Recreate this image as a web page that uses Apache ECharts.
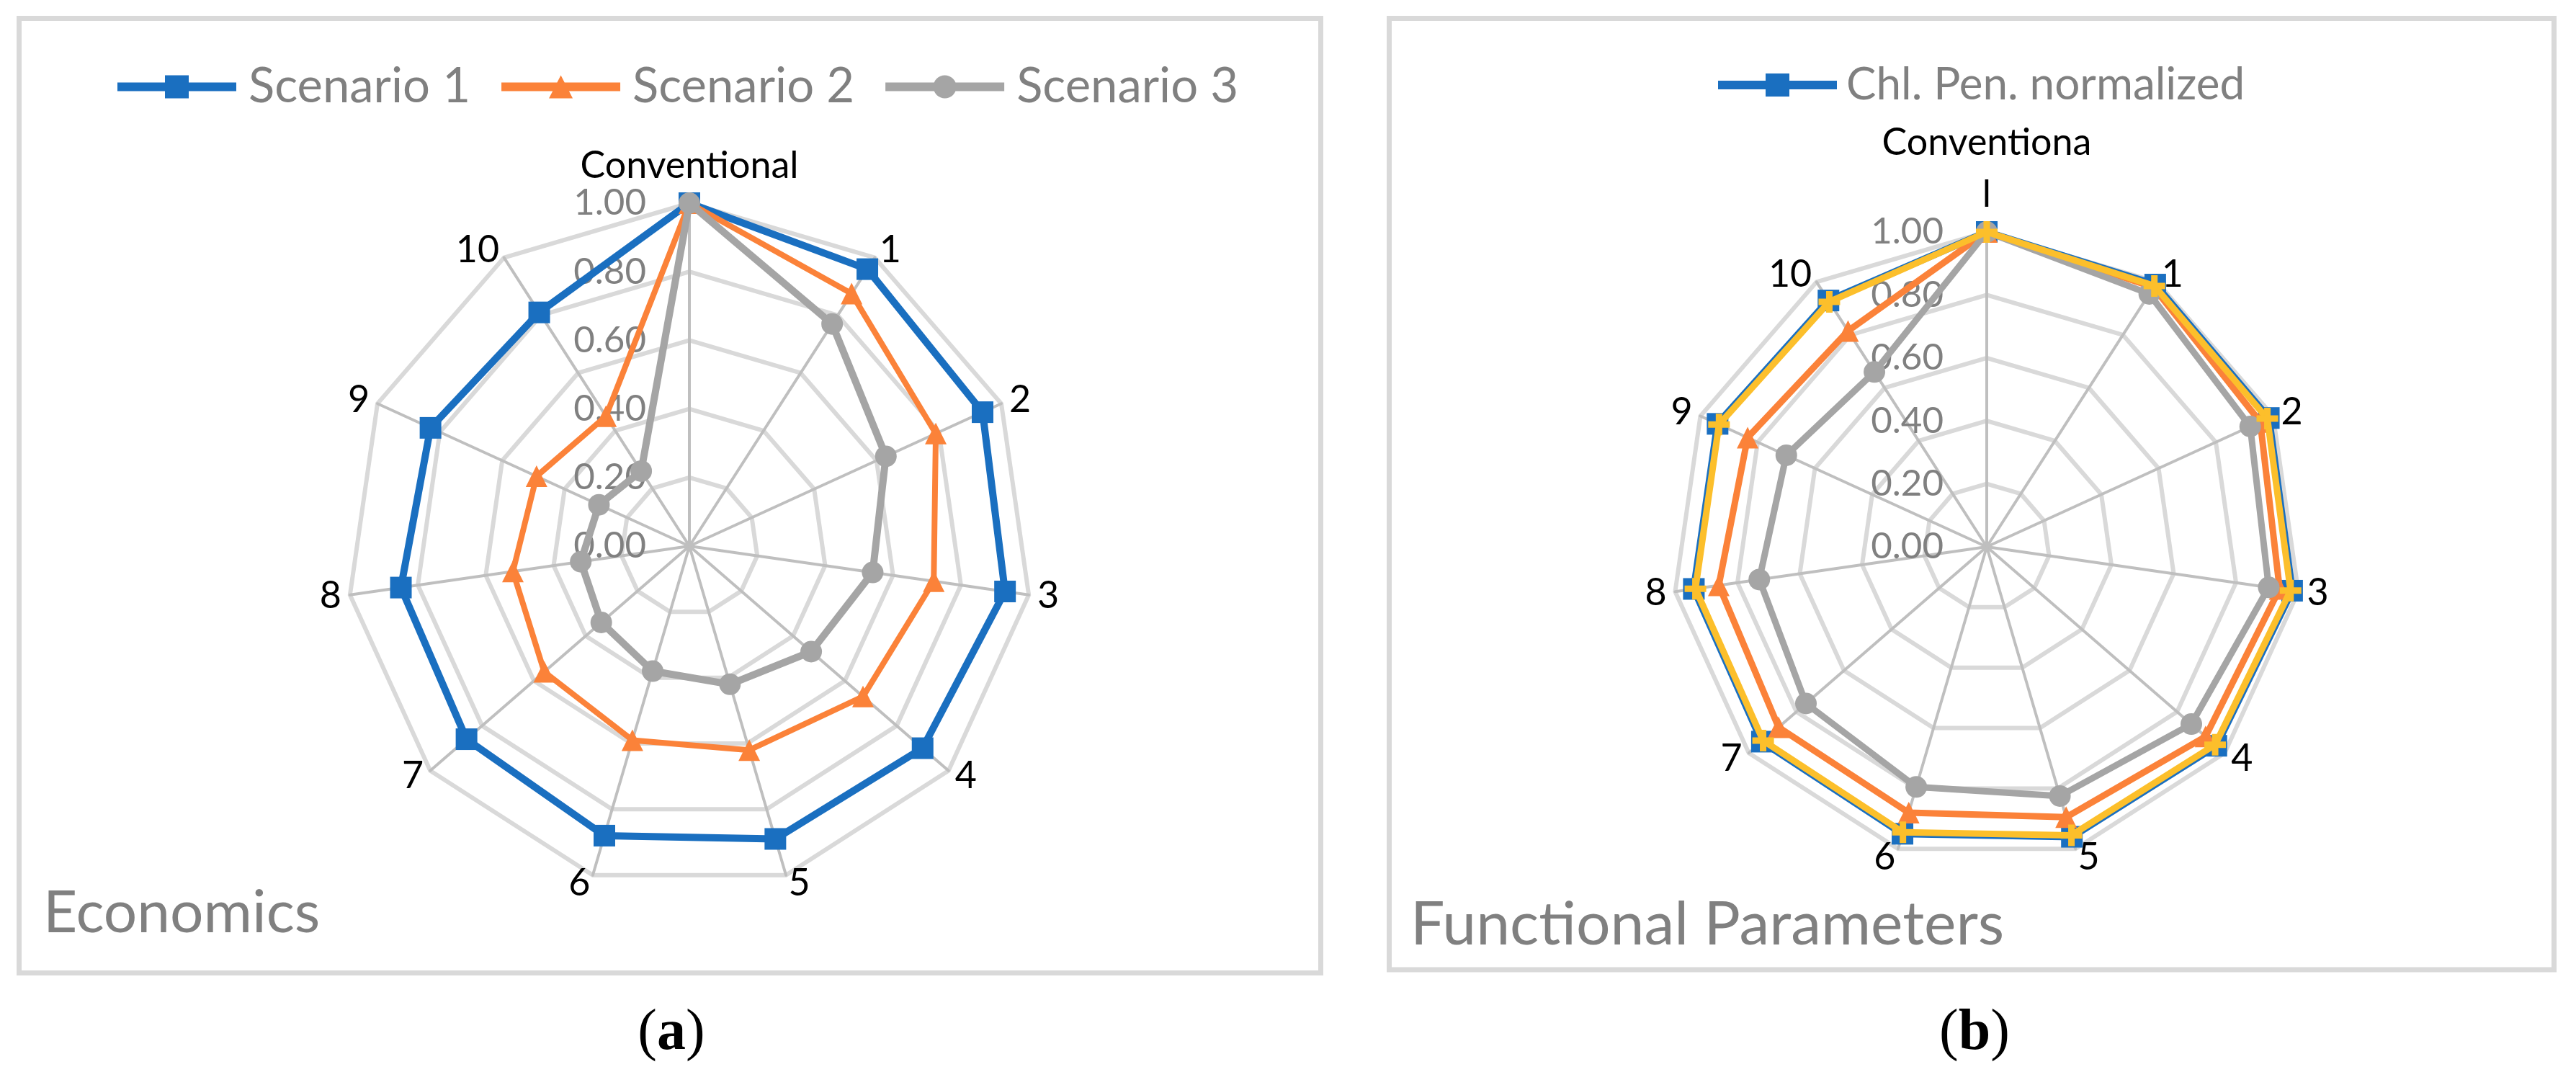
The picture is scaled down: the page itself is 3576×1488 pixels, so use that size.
<!DOCTYPE html>
<html>
<head>
<meta charset="utf-8">
<script src="https://cdn.jsdelivr.net/npm/echarts@6/dist/echarts.min.js"></script>
<style>
html,body{margin:0;padding:0;background:#fff;}
#chart{width:3576px;height:1488px;}
</style>
</head>
<body>
<div id="chart"></div>
<script>
// ---------- data ----------
const categoriesA = ['Conventional', '1', '2', '3', '4', '5', '6', '7', '8', '9', '10'];
const categoriesB = ['Conventiona\nl', '1', '2', '3', '4', '5', '6', '7', '8', '9', '10'];
const tickMin = 0;
const tickMax = 1;

// (a) Economics
const scenario1 = [1.00, 0.96, 0.94, 0.93, 0.90, 0.89, 0.88, 0.86, 0.85, 0.83, 0.81];
const scenario2 = [1.00, 0.875, 0.79, 0.72, 0.67, 0.62, 0.59, 0.56, 0.52, 0.49, 0.45];
const scenario3 = [1.00, 0.77, 0.63, 0.54, 0.47, 0.42, 0.38, 0.34, 0.32, 0.29, 0.26];

// (b) Functional Parameters
const chlPenNormalized = [1.00, 0.99, 0.985, 0.98, 0.965, 0.96, 0.95, 0.945, 0.94, 0.94, 0.93];
const funcOrange = [1.00, 0.98, 0.955, 0.94, 0.92, 0.895, 0.88, 0.875, 0.86, 0.835, 0.815];
const funcGray = [1.00, 0.955, 0.92, 0.905, 0.86, 0.825, 0.795, 0.76, 0.73, 0.70, 0.66];
const funcYellow = [1.00, 0.985, 0.98, 0.975, 0.96, 0.955, 0.945, 0.94, 0.935, 0.935, 0.925];

// ---------- helpers ----------
const FONT = 'Lato, "Open Sans", sans-serif';
const BLUE = '#1a6fc0', ORANGE = '#fb8239', GRAY = '#a5a5a5', YELLOW = '#fcbf2b';
const PLUS = 'path://M35,0 H65 V35 H100 V65 H65 V100 H35 V65 H0 V35 H35 Z';
const ICON_SQ = 'path://M0,10 H66 V0 H99 V10 H165 V22 H99 V32 H66 V22 H0 Z';
const ICON_TRI = 'path://M0,10 H77.34 L82.5,0 L87.66,10 H165 V22 H93.84 L99,32 H66 L71.16,22 H0 Z';
const ICON_CIR = 'path://M0,10 H67.67 A16,16 0 0 1 97.33,10 H165 V22 H97.33 A16,16 0 0 1 67.67,22 H0 Z';

// ECharts radar goes counter-clockwise; reverse axes after the first to get clockwise order
function cw(arr) { return [arr[0]].concat(arr.slice(1).reverse()); }

function indicators(cats) {
  return cw(cats).map((c, i) => {
    const o = { name: c, min: tickMin, max: tickMax };
    if (i === 0) {
      o.axisLabel = {
        show: true, margin: 60, color: '#808080', fontSize: 51, fontFamily: FONT,
        formatter: v => Number(v).toFixed(2)
      };
    }
    return o;
  });
}

function radarCfg(center, radius, cats) {
  return {
    center: center,
    radius: radius,
    startAngle: 90,
    splitNumber: 5,
    shape: 'polygon',
    indicator: indicators(cats),
    nameGap: 12,
    axisName: {
      color: '#000', fontSize: 52, fontFamily: FONT,
      formatter: n => n.indexOf('\n') >= 0 ? n.split('\n').map(s => '{t|' + s + '}').join('\n') : n,
      rich: { t: { color: '#000', fontSize: 52, fontFamily: FONT, lineHeight: 72 } }
    },
    axisLine: { lineStyle: { color: '#bfbfbf', width: 4 } },
    splitLine: { lineStyle: { color: '#d9d9d9', width: 6 } },
    splitArea: { show: false },
    axisTick: { show: false },
    axisLabel: { show: false }
  };
}

function radarSeries(name, values, radarIndex, color, symbol, lineWidth, z) {
  return {
    type: 'radar',
    name: name,
    radarIndex: radarIndex,
    z: z,
    symbol: symbol,
    symbolSize: 30,
    lineStyle: { color: color, width: lineWidth },
    itemStyle: { color: color, borderWidth: 0 },
    data: [{ name: name, value: cw(values) }]
  };
}

const chart = echarts.init(document.getElementById('chart'), null, { renderer: 'canvas' });

const option = {
  backgroundColor: '#fff',
  animation: false,
  legend: [
    {
      left: 158, top: 82,
      itemWidth: 165, itemHeight: 32, itemGap: 43,
      textStyle: { color: '#808080', fontSize: 67, fontFamily: FONT, padding: [0, 0, 0, 12], width: 312, overflow: 'none' },
      itemStyle: { borderWidth: 0 },
      data: [
        { name: 'Scenario 1', icon: ICON_SQ },
        { name: 'Scenario 2', icon: ICON_TRI },
        { name: 'Scenario 3', icon: ICON_CIR }
      ],
      selectedMode: false
    },
    {
      left: 2380, top: 82,
      itemWidth: 165, itemHeight: 32,
      textStyle: { color: '#808080', fontSize: 62, fontFamily: FONT, padding: [0, 0, 0, 8] },
      itemStyle: { borderWidth: 0 },
      data: [{ name: 'Chl. Pen. normalized', icon: ICON_SQ }],
      selectedMode: false
    }
  ],
  radar: [
    radarCfg([957, 758], 476, categoriesA),
    radarCfg([2758, 759], 437, categoriesB)
  ],
  series: [
    radarSeries('Scenario 1', scenario1, 0, BLUE, 'rect', 10, 2),
    radarSeries('Scenario 2', scenario2, 0, ORANGE, 'triangle', 8, 3),
    radarSeries('Scenario 3', scenario3, 0, GRAY, 'circle', 10, 4),
    radarSeries('Chl. Pen. normalized', chlPenNormalized, 1, BLUE, 'rect', 10, 2),
    radarSeries('(b) series 2', funcOrange, 1, ORANGE, 'triangle', 9, 3),
    radarSeries('(b) series 3', funcGray, 1, GRAY, 'circle', 9, 4),
    radarSeries('(b) series 4', funcYellow, 1, YELLOW, PLUS, 9, 5)
  ],
  graphic: [
    { type: 'rect', shape: { x: 26.5, y: 25.5, width: 1807, height: 1325 }, style: { fill: 'none', stroke: '#d9d9d9', lineWidth: 7 }, z: -10 },
    { type: 'rect', shape: { x: 1928.5, y: 25.5, width: 1617, height: 1320.5 }, style: { fill: 'none', stroke: '#d9d9d9', lineWidth: 7 }, z: -10 },
    { type: 'text', x: 60, y: 1268, style: { text: 'Economics', fill: '#808080', fontSize: 82, fontFamily: FONT, align: 'left', verticalAlign: 'middle' } },
    { type: 'text', x: 1958, y: 1284, style: { text: 'Functional Parameters', fill: '#808080', fontSize: 84, fontFamily: FONT, align: 'left', verticalAlign: 'middle' } },
    { type: 'text', x: 932, y: 1435, style: { text: '{p|(}{b|a}{p|)}', align: 'center', verticalAlign: 'middle',
        rich: { p: { fontSize: 80, fontFamily: '"Liberation Serif", serif', fill: '#000' }, b: { fontSize: 80, fontWeight: 'bold', fontFamily: '"Liberation Serif", serif', fill: '#000' } } } },
    { type: 'text', x: 2741, y: 1435, style: { text: '{p|(}{b|b}{p|)}', align: 'center', verticalAlign: 'middle',
        rich: { p: { fontSize: 80, fontFamily: '"Liberation Serif", serif', fill: '#000' }, b: { fontSize: 80, fontWeight: 'bold', fontFamily: '"Liberation Serif", serif', fill: '#000' } } } }
  ]
};

chart.setOption(option);
</script>
</body>
</html>
